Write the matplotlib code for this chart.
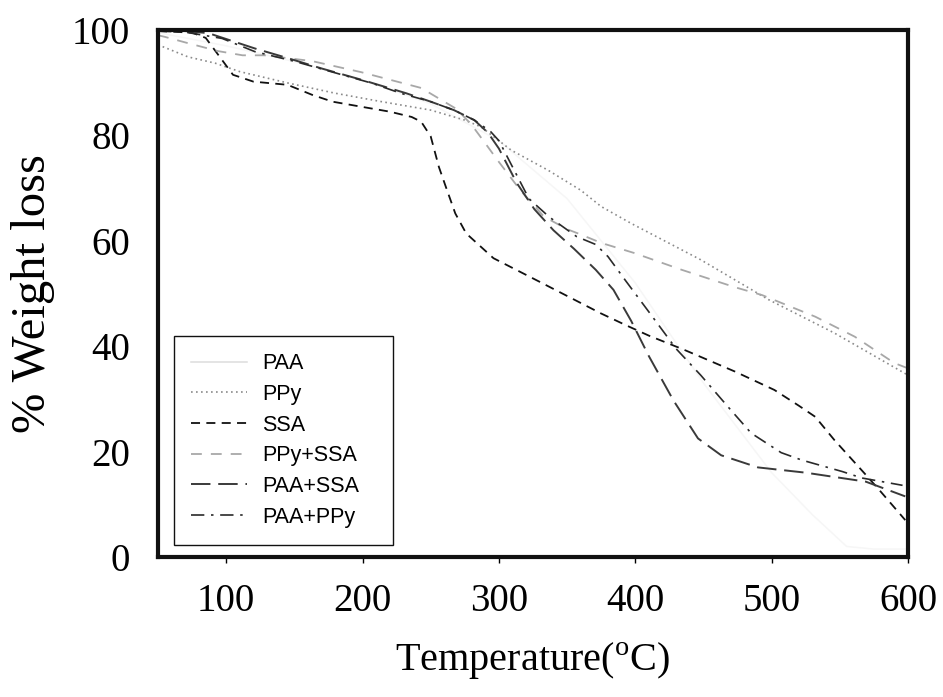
import matplotlib
matplotlib.use("Agg")
import matplotlib.pyplot as plt

# ---- TGA data: temperature (°C) and remaining weight (%) ----
temp_paa = [50, 100, 150, 200, 250, 300, 350, 400, 450, 500, 530, 555, 575, 600]
wt_paa = [99.5, 97, 94, 90.5, 86, 79, 68, 52, 33, 16, 8, 2, 1.5, 1.5]

temp_ppy = [50, 72, 92, 110, 146, 180, 214, 250, 275, 287, 309, 336, 360, 375,
            397, 448, 498, 546, 600]
wt_ppy = [97.2, 94.9, 93.7, 92.1, 89.9, 88.0, 86.4, 84.8, 82.9, 81.6, 77.2, 73.4,
          69.6, 66.5, 63.3, 56.4, 48.8, 42.5, 34.5]

temp_ssa = [50, 75, 85, 95, 105, 120, 145, 163, 178, 200, 220, 236, 243, 250, 256,
            261, 268, 276, 296, 330, 375, 393, 410, 436, 473, 502, 520, 532, 546,
            568, 579, 598]
wt_ssa = [99.8, 99.5, 98.5, 95.0, 91.5, 90.2, 89.6, 87.7, 86.4, 85.4, 84.5, 83.5,
          82.6, 79.8, 74.0, 70.3, 65.2, 61.4, 56.7, 52.2, 46.2, 44.0, 42.0, 39.3,
          35.2, 31.7, 28.7, 26.6, 22.2, 15.9, 12.7, 7.0]

temp_ppy_ssa = [50, 55, 72, 94, 112, 128, 163, 199, 243, 269, 280, 290, 299, 316,
                333, 350, 360, 375, 399, 434, 473, 493, 532, 561, 590, 600]
wt_ppy_ssa = [99.0, 98.7, 97.5, 96.0, 95.2, 95.2, 94.1, 92.0, 89.0, 85.0, 82.0, 78.5,
              75.3, 69.5, 64.6, 62.2, 61.2, 59.6, 57.7, 54.5, 51.2, 49.7, 45.6, 41.8,
              36.8, 35.8]

temp_paa_ssa = [50, 70, 87, 121, 146, 170, 200, 232, 250, 267, 282, 292, 300, 313,
                326, 340, 355, 371, 384, 397, 410, 428, 446, 463, 490, 525, 569, 598]
wt_paa_ssa = [99.8, 99.8, 99.4, 96.5, 94.6, 92.7, 90.5, 88.0, 86.4, 84.8, 82.9, 80.5,
              77.5, 71.0, 66.0, 62.0, 58.5, 54.5, 50.7, 44.8, 38.1, 29.7, 22.5, 19.3,
              17.0, 16.0, 14.3, 11.5]

temp_paa_ppy = [50, 70, 97, 121, 151, 185, 207, 228, 250, 267, 282, 294, 300, 310,
                322, 337, 357, 371, 380, 393, 410, 430, 448, 468, 485, 507, 522, 552,
                566, 596]
wt_paa_ppy = [99.8, 99.6, 98.4, 95.9, 94.0, 91.5, 89.9, 88.0, 86.4, 84.8, 82.9, 80.7,
              79.0, 74.0, 68.0, 64.5, 60.8, 59.3, 57.0, 52.4, 46.5, 39.5, 34.5, 28.5,
              23.5, 19.8, 18.4, 16.2, 15.0, 13.6]

x_ticks = [100, 200, 300, 400, 500, 600]
y_ticks = [0, 20, 40, 60, 80, 100]

plt.rcParams["mathtext.fontset"] = "custom"
plt.rcParams["mathtext.rm"] = "Liberation Serif"

fig = plt.figure(figsize=(9.43, 6.97), dpi=100)
ax = fig.add_axes([158 / 943, 1 - 557 / 697, 750 / 943, 527 / 697])

ax.plot(temp_paa, wt_paa, color="#f6f6f6", lw=1.1, ls="-", label="PAA")
ax.plot(temp_ppy, wt_ppy, color="#8a8a8a", lw=1.2, ls=(0, (1, 2)), label="PPy")
ax.plot(temp_ssa, wt_ssa, color="#111111", lw=1.3, ls=(0, (5, 3.5)), label="SSA")
ax.plot(temp_ppy_ssa, wt_ppy_ssa, color="#a8a8a8", lw=1.3, ls=(0, (6, 5)),
        label="PPy+SSA")
ax.plot(temp_paa_ssa, wt_paa_ssa, color="#3a3a3a", lw=1.4, ls=(0, (10, 4)),
        label="PAA+SSA")
ax.plot(temp_paa_ppy, wt_paa_ppy, color="#2a2a2a", lw=1.2, ls=(0, (8, 4, 1.5, 4)),
        label="PAA+PPy")

ax.set_xlim(50, 600)
ax.set_ylim(0, 100)
ax.set_xticks(x_ticks)
ax.set_yticks(y_ticks)

serif = "Liberation Serif"
ax.set_xticklabels([str(v) for v in x_ticks], fontsize=28, family=serif)
ax.set_yticklabels([str(v) for v in y_ticks], fontsize=28, family=serif)
ax.tick_params(axis="x", direction="out", length=4, width=1, pad=15)
ax.tick_params(axis="y", direction="out", length=0, width=1, pad=20)

for side in ax.spines.values():
    side.set_linewidth(3.0)
    side.set_color("#111111")

ax.set_xlabel(r"Temperature($^{\rm o}$C)", fontsize=29, family=serif, labelpad=14)
ax.set_ylabel("% Weight loss", fontsize=35, family=serif, labelpad=12)

leg = ax.legend(loc="lower left", bbox_to_anchor=(0.021, 0.023, 0.292, 0.421),
                mode="expand", frameon=True, fancybox=False, framealpha=1,
                edgecolor="#111111", prop={"family": "Liberation Sans", "size": 15.5},
                handlelength=2.6, handletextpad=0.7, labelspacing=0.45,
                borderpad=0.8, borderaxespad=0)
leg.get_frame().set_linewidth(1.0)
leg.get_lines()[0].set_color("#dddddd")

fig.savefig("out.png", dpi=100)
